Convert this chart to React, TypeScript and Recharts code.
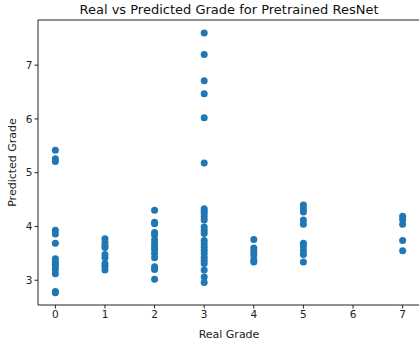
import { ScatterChart, Scatter, XAxis, YAxis, ReferenceLine } from 'recharts';

// predicted grades, grouped by real grade
const grade0 = [5.42, 5.26, 5.21, 3.93, 3.86, 3.69, 3.40, 3.35, 3.30, 3.25, 3.20, 3.12, 2.79, 2.77];
const grade1 = [3.77, 3.70, 3.64, 3.61, 3.48, 3.42, 3.31, 3.26, 3.19];
const grade2 = [4.30, 4.08, 4.05, 3.89, 3.84, 3.75, 3.68, 3.62, 3.57, 3.50, 3.42, 3.25, 3.20, 3.02];
const grade3 = [
  7.60, 7.20, 6.71, 6.47, 6.02, 5.18, 4.33, 4.29, 4.24, 4.18, 4.12, 3.99, 3.93, 3.87,
  3.74, 3.68, 3.62, 3.56, 3.50, 3.43, 3.37, 3.31, 3.19, 3.06, 2.96,
];
const grade4 = [3.76, 3.60, 3.54, 3.47, 3.38, 3.34];
const grade5 = [4.40, 4.33, 4.27, 4.12, 4.04, 3.69, 3.63, 3.55, 3.48, 3.34];
const grade7 = [4.19, 4.13, 4.04, 3.74, 3.55];

const xTicks = [0, 1, 2, 3, 4, 5, 6, 7];
const yTicks = [3, 4, 5, 6, 7];

const groups: Array<[number, number[]]> = [
  [0, grade0],
  [1, grade1],
  [2, grade2],
  [3, grade3],
  [4, grade4],
  [5, grade5],
  [7, grade7],
];

const points = groups.flatMap(([real, preds]) => preds.map((p) => ({ real, predicted: p })));

const font = 'DejaVu Sans';
const tickStyle = { fontSize: 10.5, fill: '#222', fontFamily: font };
const labelStyle = { fontSize: 11, fill: '#222', fontFamily: font };

const Dot = (props: any) => <circle cx={props.cx} cy={props.cy} r={3.5} fill="#1f77b4" />;

export default function App() {
  return (
    <div style={{ position: 'absolute', left: 0, top: 0, width: 419, height: 343, background: '#fff' }}>
      <div
        style={{
          position: 'absolute',
          left: 38,
          width: 382,
          top: 1,
          textAlign: 'center',
          fontFamily: font,
          fontSize: 13,
          color: '#111',
          lineHeight: '17px',
        }}
      >
        Real vs Predicted Grade for Pretrained ResNet
      </div>
      <ScatterChart width={419} height={343} margin={{ top: 20, right: -1, bottom: 0, left: 0 }}>
        <XAxis
          type="number"
          dataKey="real"
          domain={[-0.35, 7.35]}
          ticks={xTicks}
          allowDataOverflow
          height={38}
          stroke="#222"
          tickSize={3.5}
          tick={tickStyle}
          label={{ value: 'Real Grade', position: 'insideBottom', offset: 5, style: labelStyle }}
        />
        <YAxis
          type="number"
          dataKey="predicted"
          domain={[2.54, 7.84]}
          ticks={yTicks}
          allowDataOverflow
          width={38}
          stroke="#222"
          tickSize={3.5}
          tick={tickStyle}
          label={{ value: 'Predicted Grade', angle: -90, position: 'insideLeft', offset: 12, style: { ...labelStyle, textAnchor: 'middle' } }}
        />
        <ReferenceLine y={7.84} stroke="#222" ifOverflow="visible" />
        <Scatter data={points} shape={<Dot />} isAnimationActive={false} />
      </ScatterChart>
    </div>
  );
}
